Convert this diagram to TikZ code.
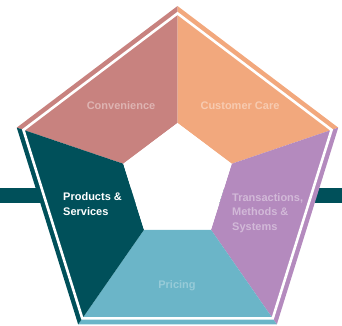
\documentclass[tikz,border=0pt]{standalone}
\usepackage{fontspec}
\setmainfont{Liberation Sans}
\usetikzlibrary{positioning}
\definecolor{rosewood}{RGB}{200,130,127}
\definecolor{apricot}{RGB}{242,168,125}
\definecolor{lilac}{RGB}{180,138,190}
\definecolor{skyblue}{RGB}{107,181,200}
\definecolor{deepteal}{RGB}{0,80,90}

\begin{document}
\begin{tikzpicture}[x=1pt, y=1pt,
    seglabel/.style={font=\bfseries\fontsize{11}{14.5}\selectfont, inner sep=0pt}]
    \useasboundingbox (0,0) rectangle (342,325);

    % Bar running behind the pentagon
    \fill[deepteal] (0,122) rectangle (342,137);

    \begin{scope}[shift={(177.5,143)}]
        % Outer corners
        \coordinate (o1) at (90:169 and 176);
        \coordinate (o2) at (18:169 and 176);
        \coordinate (o3) at (-54:169 and 176);
        \coordinate (o4) at (-126:169 and 176);
        \coordinate (o5) at (162:169 and 176);
        % Inner corners (white hole)
        \coordinate (i1) at (90:57 and 59);
        \coordinate (i2) at (18:57 and 59);
        \coordinate (i3) at (-54:57 and 59);
        \coordinate (i4) at (-126:57 and 59);
        \coordinate (i5) at (162:57 and 59);

        % Segments
        \fill[rosewood] (i5) -- (o5) -- (o1) -- (i1) -- cycle;
        \fill[apricot] (i1) -- (o1) -- (o2) -- (i2) -- cycle;
        \fill[lilac] (i2) -- (o2) -- (o3) -- (i3) -- cycle;
        \fill[skyblue] (i3) -- (o3) -- (o4) -- (i4) -- cycle;
        \fill[deepteal] (i4) -- (o4) -- (o5) -- (i5) -- cycle;
        \fill[white] (i1) -- (i2) -- (i3) -- (i4) -- (i5) -- cycle;

        % White rule inside the rim
        \draw[white, line width=2.6pt] (90:162 and 168.6) -- (18:162 and 168.6)
            -- (-54:162 and 168.6) -- (-126:162 and 168.6) -- (162:162 and 168.6) -- cycle;
    \end{scope}

    % Labels
    \node[seglabel, text=rosewood!60!white, anchor=base] (conv) at (121,216) {Convenience};
    \node[seglabel, text=apricot!60!white, anchor=base] (care) at (240,216) {Customer Care};
    \node[seglabel, text=white, align=left, anchor=base west] (prod) at (63,110) {Products \&\\Services};
    \node[seglabel, text=lilac!60!white, align=left, anchor=base west] (trans) at (232,95) {Transactions,\\Methods \&\\Systems};
    \node[seglabel, text=skyblue!70!white, anchor=base] (price) at (177,37) {Pricing};
\end{tikzpicture}
\end{document}
